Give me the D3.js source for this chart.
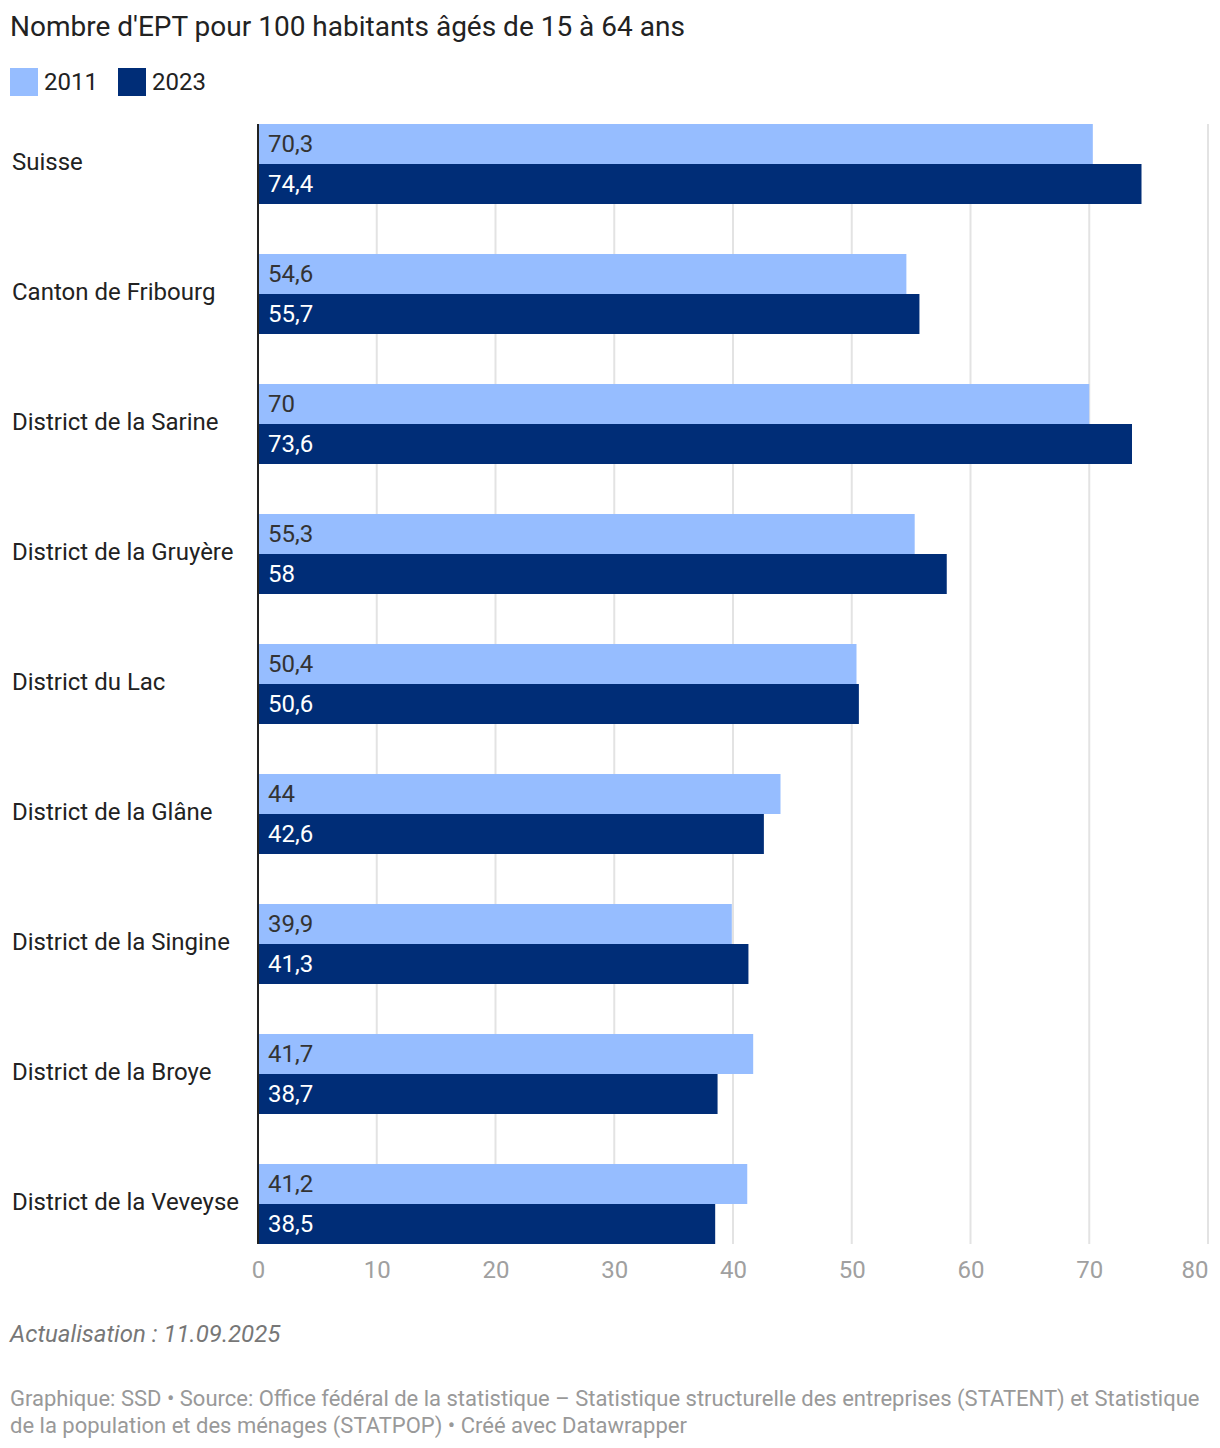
<!DOCTYPE html>
<html>
<head>
<meta charset="utf-8">
<script src="https://cdn.jsdelivr.net/npm/d3@7"></script>
<style>
  body { margin: 0; background: #fff; font-family: Roboto, sans-serif; }
</style>
</head>
<body>
<div class="chart"></div>
<script>
const categories = ["Suisse", "Canton de Fribourg", "District de la Sarine", "District de la Gruyère",
  "District du Lac", "District de la Glâne", "District de la Singine", "District de la Broye", "District de la Veveyse"];
const values2011 = [70.3, 54.6, 70, 55.3, 50.4, 44, 39.9, 41.7, 41.2];
const values2023 = [74.4, 55.7, 73.6, 58, 50.6, 42.6, 41.3, 38.7, 38.5];
const series = ["2011", "2023"];
const xTicks = [0, 10, 20, 30, 40, 50, 60, 70, 80];

const colors = {"2011": "#96bdff", "2023": "#002d77"};
const labelColors = {"2011": "#333333", "2023": "#ffffff"};

const W = 1220, H = 1448;
const plotLeft = 258, plotRight = 1208, plotTop = 124, plotBottom = 1244;

const svg = d3.select(".chart").append("svg")
    .attr("width", W)
    .attr("height", H)
    .attr("font-family", "Roboto, sans-serif");

// title
svg.append("text")
    .attr("x", 10).attr("y", 36)
    .attr("font-size", 28)
    .attr("fill", "#222")
    .text("Nombre d'EPT pour 100 habitants âgés de 15 à 64 ans");

// legend
const legend = svg.append("g");
let lx = 10;
series.forEach(s => {
  legend.append("rect").attr("x", lx).attr("y", 68).attr("width", 28).attr("height", 28).attr("fill", colors[s]);
  legend.append("text").attr("x", lx + 34).attr("y", 90).attr("font-size", 24).attr("fill", "#222").text(s);
  lx += 108;
});

const x = d3.scaleLinear().domain([0, 80]).range([plotLeft, plotRight]);

// step 130, band 80
const yGroup = d3.scaleBand()
    .domain(categories)
    .range([plotTop, plotBottom])
    .paddingInner(50 / 130)
    .paddingOuter(0);
const y1 = d3.scaleBand().domain(series).range([0, yGroup.bandwidth()]);

// gridlines
svg.append("g")
    .selectAll("line")
    .data(xTicks.slice(1))
    .join("line")
    .attr("x1", d => x(d)).attr("x2", d => x(d))
    .attr("y1", plotTop).attr("y2", plotBottom)
    .attr("stroke", "#e3e3e3")
    .attr("stroke-width", 2);

// bars
const data = categories.map((c, i) => ({cat: c, vals: [{s: "2011", v: values2011[i]}, {s: "2023", v: values2023[i]}]}));

const groups = svg.append("g")
    .selectAll("g")
    .data(data)
    .join("g")
    .attr("transform", d => `translate(0,${yGroup(d.cat)})`);

groups.selectAll("rect")
    .data(d => d.vals)
    .join("rect")
    .attr("x", x(0))
    .attr("y", d => y1(d.s))
    .attr("width", d => x(d.v) - x(0))
    .attr("height", y1.bandwidth())
    .attr("fill", d => colors[d.s]);

groups.selectAll("text.val")
    .data(d => d.vals)
    .join("text")
    .attr("class", "val")
    .attr("x", x(0) + 10)
    .attr("y", d => y1(d.s) + y1.bandwidth() / 2)
    .attr("dy", "0.32em")
    .attr("font-size", 24)
    .attr("fill", d => labelColors[d.s])
    .text(d => String(d.v).replace(".", ","));

// category labels
svg.append("g")
    .selectAll("text")
    .data(categories)
    .join("text")
    .attr("x", 12)
    .attr("y", d => yGroup(d) + 38)
    .attr("dy", "0.32em")
    .attr("font-size", 24)
    .attr("fill", "#222")
    .text(d => d);

// baseline
svg.append("line")
    .attr("x1", x(0)).attr("x2", x(0))
    .attr("y1", plotTop).attr("y2", plotBottom)
    .attr("stroke", "#222")
    .attr("stroke-width", 2);

// x axis
const xAxis = d3.axisBottom(x).tickValues(xTicks).tickSize(0).tickPadding(0);
svg.append("g")
    .attr("transform", `translate(0,${plotBottom + 34})`)
    .call(xAxis)
    .call(g => g.select(".domain").remove())
    .call(g => g.selectAll("text")
        .attr("font-family", "Roboto, sans-serif")
        .attr("font-size", 24)
        .attr("fill", "#a0a0a0")
        .attr("dy", "0")
        .attr("text-anchor", d => d === 80 ? "end" : "middle"));

// footer
svg.append("text")
    .attr("x", 10).attr("y", 1342)
    .attr("font-size", 24)
    .attr("font-style", "italic")
    .attr("fill", "#777")
    .text("Actualisation : 11.09.2025");

const footer = [
  "Graphique: SSD • Source: Office fédéral de la statistique – Statistique structurelle des entreprises (STATENT) et Statistique",
  "de la population et des ménages (STATPOP) • Créé avec Datawrapper"
];
svg.append("g")
    .selectAll("text")
    .data(footer)
    .join("text")
    .attr("x", 10)
    .attr("y", (d, i) => 1406 + i * 27)
    .attr("font-size", 22)
    .attr("fill", "#999")
    .text(d => d);
</script>
</body>
</html>
